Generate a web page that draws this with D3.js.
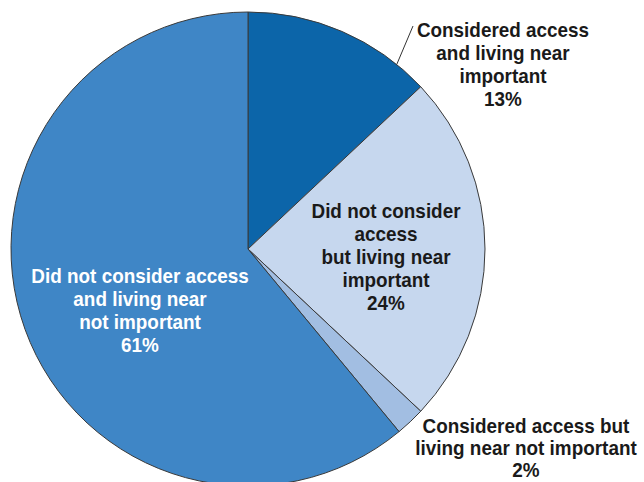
<!DOCTYPE html>
<html>
<head>
<meta charset="utf-8">
<script src="https://cdn.jsdelivr.net/npm/d3@7"></script>
<style>
  html, body { margin: 0; padding: 0; background: #fff; }
  svg { display: block; }
  text { font-family: "Liberation Sans", Arial, sans-serif; font-weight: bold; font-size: 21px; }
</style>
</head>
<body>
<script>
const categories = [
  "Considered access and living near important",
  "Did not consider access but living near important",
  "Considered access but living near not important",
  "Did not consider access and living near not important"
];
const values = [13, 24, 2, 61];
const colors = ["#0c65a9", "#c6d7ee", "#a2bee2", "#3f86c6"];
const labelLines = [
  ["Considered access", "and living near", "important", "13%"],
  ["Did not consider", "access", "but living near", "important", "24%"],
  ["Considered access but", "living near not important", "2%"],
  ["Did not consider access", "and living near", "not important", "61%"]
];
const labelColors = ["#1a1a1a", "#1a1a1a", "#1a1a1a", "#ffffff"];

const W = 644, H = 482;
const cx = 248, cy = 249, R = 237;

const svg = d3.select("body").append("svg").attr("width", W).attr("height", H);
const g = svg.append("g").attr("transform", `translate(${cx},${cy})`);

const pie = d3.pie().sort(null).value(d => d.v);
const data = pie(values.map((v, i) => ({v, i})));
const arc = d3.arc().innerRadius(0).outerRadius(R);

g.selectAll("path.slice").data(data).enter().append("path")
  .attr("class", "slice")
  .attr("d", arc)
  .attr("fill", d => colors[d.data.i])
  .attr("stroke", "#3a3a3a")
  .attr("stroke-width", 1)
  .attr("stroke-linejoin", "round");

// label positions (anchor centers, first baseline, line height)
const labelPos = [
  {x: 503, y: 37, h: 23},
  {x: 386, y: 218, h: 23},
  {x: 526, y: 433, h: 22},
  {x: 140, y: 283, h: 23}
];
const sx = 0.9;

labelLines.forEach((lines, i) => {
  const t = svg.append("text")
    .attr("text-anchor", "middle")
    .attr("transform", `translate(${labelPos[i].x},0) scale(${sx},1)`)
    .attr("fill", labelColors[i]);
  lines.forEach((ln, j) => {
    t.append("tspan").attr("x", 0).attr("y", labelPos[i].y + j * labelPos[i].h).text(ln);
  });
});

// leader line for the 13% slice
const a13 = (data[0].startAngle + data[0].endAngle) / 2 + 0.27;
const p0 = [cx + R * Math.sin(a13), cy - R * Math.cos(a13)];
svg.append("line")
  .attr("x1", p0[0]).attr("y1", p0[1])
  .attr("x2", 413).attr("y2", 26)
  .attr("stroke", "#333").attr("stroke-width", 1);
</script>
</body>
</html>
